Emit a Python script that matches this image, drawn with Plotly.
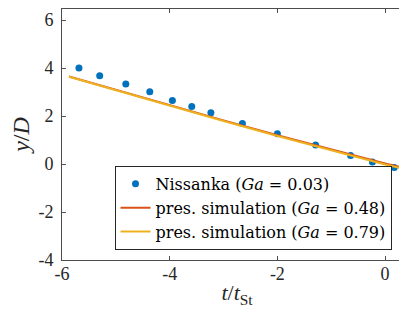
import plotly.graph_objects as go

# Data
nis_t = [-5.685, -5.30, -4.815, -4.37, -3.95, -3.59, -3.235, -2.65, -2.0, -1.29, -0.64, -0.235, 0.17]
nis_y = [4.00, 3.68, 3.33, 3.01, 2.65, 2.40, 2.14, 1.69, 1.26, 0.79, 0.35, 0.08, -0.15]

sim_t = [-5.87, -5.0, -4.0, -3.0, -2.0, -1.0, 0.0, 0.5]
sim048_y = [3.65, 3.09, 2.44, 1.82, 1.20, 0.60, 0.02, -0.25]
sim079_y = [3.64, 3.07, 2.42, 1.79, 1.17, 0.57, -0.02, -0.28]

x_ticks = [-6, -4, -2, 0]
x_ticklabels = ["-6", "-4", "-2", "0"]
y_ticks = [-4, -2, 0, 2, 4, 6]
y_ticklabels = ["-4", "-2", "0", "2", "4", "6"]

SERIF = "Liberation Serif"
LEGF = "DejaVu Serif"
AX = "#4d4d4d"

fig = go.Figure()
fig.add_trace(go.Scatter(x=nis_t, y=nis_y, mode="markers",
                         marker=dict(color="#0072BD", size=7),
                         name="Nissanka (<i>Ga</i> = 0.03)"))
fig.add_trace(go.Scatter(x=sim_t, y=sim048_y, mode="lines",
                         line=dict(color="#D95319", width=2),
                         name="pres. simulation (<i>Ga</i> = 0.48)"))
fig.add_trace(go.Scatter(x=sim_t, y=sim079_y, mode="lines",
                         line=dict(color="#EDB120", width=2),
                         name="pres. simulation (<i>Ga</i> = 0.79)"))

axis_common = dict(showgrid=False, zeroline=False, showline=True, linecolor=AX,
                   linewidth=1, mirror="ticks", ticks="inside", ticklen=4,
                   tickcolor=AX,
                   tickfont=dict(family=SERIF, size=18, color="#262626"))

fig.update_layout(
    width=407, height=312,
    margin=dict(l=54, r=3, t=1, b=60),
    plot_bgcolor="white", paper_bgcolor="white",
    xaxis=dict(range=[-6, 0.5], tickvals=x_ticks, ticktext=x_ticklabels,
               ticklabelstandoff=-3,
               title=dict(text="<i>t</i>/<i>t</i><sub>St</sub>",
                          font=dict(family=SERIF, size=22, color="#262626"), standoff=2),
               **axis_common),
    yaxis=dict(range=[-4, 6.46], tickvals=y_ticks, ticktext=y_ticklabels,
               ticklabelstandoff=4,
               title=dict(text="<i>y</i>/<i>D</i>",
                          font=dict(family=SERIF, size=24, color="#262626"), standoff=8),
               **axis_common),
    legend=dict(x=0.15, y=0.04, xanchor="left", yanchor="bottom",
                bgcolor="white", bordercolor="#262626", borderwidth=1,
                font=dict(family=LEGF, size=16, color="#000000"),
                tracegroupgap=0, itemwidth=30),
    showlegend=True,
)

fig.write_html("out.html")
